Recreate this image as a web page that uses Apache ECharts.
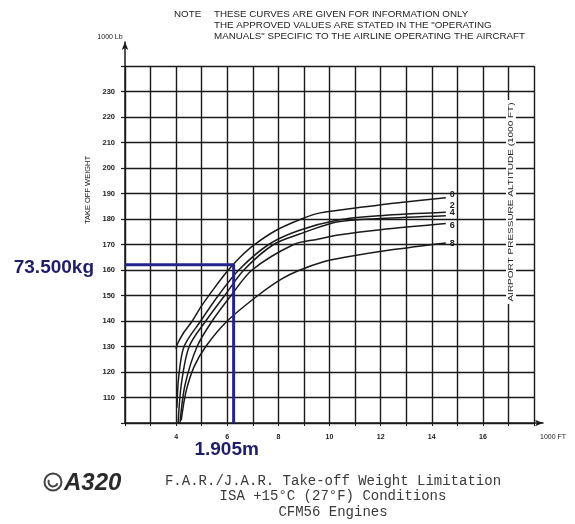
<!DOCTYPE html>
<html>
<head>
<meta charset="utf-8">
<title>A320 Take-off Weight Limitation</title>
<script src="https://cdn.jsdelivr.net/npm/echarts@6/dist/echarts.min.js"></script>
<style>
  html, body { margin: 0; padding: 0; background: #fff; }
  #chart { width: 575px; height: 524px; }
</style>
</head>
<body>
<div id="chart"></div>
<script>
// Airport pressure altitude (1000 ft) of each curve
const altitudes = ['0', '2', '4', '6', '8'];

// Curves: [runway length (1000 ft), take-off weight (1000 lb)]
const alt0 = [[4.0,129],[4.05,131],[4.3,135.5],[4.63,140],[5.0,146],[5.5,153],[6.0,159.5],[6.5,165],[7.0,169.5],[7.9,175.5],[8.9,180],[9.6,182.3],[11.4,184.8],[12.7,186.4],[14.55,188.3]];
const alt2 = [[4.03,106],[4.1,118],[4.31,130],[4.96,140],[5.65,150],[6.45,160],[7.62,170],[8.8,175.5],[10.34,179.6],[12.0,181.3],[14.55,182.6]];
const alt4 = [[4.08,100],[4.2,115],[4.51,130],[5.16,140],[5.9,150],[6.65,160],[7.81,170],[8.8,174],[10.34,178.9],[12.0,180.2],[14.55,181.3]];
const alt6 = [[4.15,100],[4.35,115],[4.82,130],[5.41,140],[6.15,150],[6.97,160],[8.6,170],[9.5,172],[10.34,173.7],[12.0,175.8],[14.55,178.2]];
const alt8 = [[4.2,101],[4.38,112],[4.7,122],[5.16,130],[6.0,140],[7.2,150],[8.13,156.5],[8.8,159.8],[9.8,163.3],[10.6,165],[12.5,168],[14.55,170.6]];
const curves = [alt0, alt2, alt4, alt6, alt8];

// Worked example: take-off weight and runway length
const exampleWeightKg = 73500;
const exampleRunwayM = 1905;

// Axis tick labels
const xTickLabels = [4, 6, 8, 10, 12, 14, 16];
const yTickLabels = [110, 120, 130, 140, 150, 160, 170, 180, 190, 200, 210, 220, 230];

const KG_TO_KLB = 2.20462 / 1000;
const M_TO_KFT = 3.28084 / 1000;
const exWeight = exampleWeightKg * KG_TO_KLB;
const exRunway = exampleRunwayM * M_TO_KFT;
const dotted = n => String(n).replace(/\B(?=(\d{3})+(?!\d))/g, '.');

const X_MIN = 2, X_MAX = 18, Y_MIN = 100, Y_MAX = 240;
const INK = '#1a1a1a';
const NAVY = '#24248f';
const smallFont = 'Liberation Sans, Arial, sans-serif';
const monoFont = '14px Liberation Mono, DejaVu Sans Mono, monospace';

// Stagger the altitude numbers at the right end of the curves
const endOffsets = [[2, -3], [2, -7], [2, -3], [2, 2], [2, 1]];

const curveSeries = curves.map((pts, i) => ({
  type: 'line',
  name: altitudes[i],
  xAxisIndex: 0,
  yAxisIndex: 0,
  data: pts,
  showSymbol: false,
  smooth: 0.3,
  lineStyle: { color: INK, width: 1.5 },
  endLabel: {
    show: true,
    formatter: altitudes[i],
    distance: 2,
    offset: endOffsets[i],
    fontSize: 9,
    fontWeight: 'bold',
    fontFamily: smallFont,
    color: '#222'
  },
  z: 3
}));

const exampleSeries = {
  type: 'line',
  xAxisIndex: 0,
  yAxisIndex: 0,
  symbol: 'circle',
  symbolSize: 0,
  showSymbol: true,
  lineStyle: { color: NAVY, width: 3 },
  itemStyle: { color: NAVY },
  label: { show: false },
  z: 4,
  data: [
    {
      value: [X_MIN, exWeight],
      label: {
        show: true, position: 'left', distance: 31, offset: [0, 3],
        formatter: dotted(exampleWeightKg) + 'kg',
        fontSize: 19, fontWeight: 'bold', fontFamily: smallFont,
        color: '#1e1e6a'
      }
    },
    { value: [exRunway, exWeight] },
    {
      value: [exRunway, Y_MIN],
      label: {
        show: true, position: 'bottom', distance: 17, offset: [-7, 0],
        formatter: dotted(exampleRunwayM) + 'm',
        fontSize: 19, fontWeight: 'bold', fontFamily: smallFont,
        color: '#1e1e6a'
      }
    }
  ]
};

const noteText = (txt, x, y) => ({
  type: 'text', x: x, y: y, scaleX: 1.15,
  style: { text: txt, font: '8.5px ' + smallFont, fill: '#222', align: 'left', verticalAlign: 'middle' }
});

const chart = echarts.init(document.getElementById('chart'), null, { renderer: 'canvas' });

chart.setOption({
  animation: false,
  backgroundColor: '#fff',
  grid: [
    { left: 125, top: 66, right: 41, bottom: 101 },
    { left: 125, top: 42, right: 32, bottom: 101 }
  ],
  xAxis: [
    {
      type: 'value', gridIndex: 0, min: X_MIN, max: X_MAX, interval: 1,
      axisLine: { show: false },
      axisTick: { show: true, length: 3, lineStyle: { color: INK, width: 1 } },
      axisLabel: {
        margin: 11, fontSize: 7, fontFamily: smallFont, color: '#222', fontWeight: 'bold',
        formatter: v => (xTickLabels.indexOf(v) >= 0 ? String(v) : '')
      },
      splitLine: { show: true, lineStyle: { color: INK, width: 1.4 } }
    },
    {
      type: 'value', gridIndex: 1, min: 0, max: 1,
      axisLine: { show: true, onZero: false, symbol: ['none', 'arrow'], symbolSize: [5, 8], lineStyle: { color: INK, width: 1.5 } },
      axisTick: { show: false }, axisLabel: { show: false }, splitLine: { show: false }
    }
  ],
  yAxis: [
    {
      type: 'value', gridIndex: 0, min: Y_MIN, max: Y_MAX, interval: 10,
      axisLine: { show: false },
      axisTick: { show: true, length: 4, lineStyle: { color: INK, width: 1.2 } },
      axisLabel: {
        margin: 10, fontSize: 7.5, fontFamily: smallFont, color: '#222', fontWeight: 'bold',
        formatter: v => (yTickLabels.indexOf(v) >= 0 ? String(v) : '')
      },
      splitLine: { show: true, lineStyle: { color: INK, width: 1.4 } }
    },
    {
      type: 'value', gridIndex: 1, min: 0, max: 1,
      axisLine: { show: true, onZero: false, symbol: ['none', 'arrow'], symbolSize: [5, 8], lineStyle: { color: INK, width: 1.5 } },
      axisTick: { show: false }, axisLabel: { show: false }, splitLine: { show: false }
    }
  ],
  series: curveSeries.concat([exampleSeries]),
  graphic: [
    // Note above the chart
    noteText('NOTE', 174, 15),
    noteText('THESE CURVES ARE GIVEN FOR INFORMATION ONLY', 214, 15),
    noteText('THE APPROVED VALUES ARE STATED IN THE "OPERATING', 214, 26),
    noteText('MANUALS" SPECIFIC TO THE AIRLINE OPERATING THE AIRCRAFT', 214, 37),
    // Axis units and titles
    { type: 'text', x: 110, y: 37, style: { text: '1000 Lb', font: '7px ' + smallFont, fill: '#222', align: 'center', verticalAlign: 'middle' } },
    { type: 'text', x: 540, y: 437, style: { text: '1000 FT', font: '7px ' + smallFont, fill: '#222', align: 'left', verticalAlign: 'middle' } },
    { type: 'text', x: 88, y: 190, rotation: Math.PI / 2,
      style: { text: 'TAKE OFF WEIGHT', font: '7.5px ' + smallFont, fill: '#222', align: 'center', verticalAlign: 'middle' } },
    { type: 'text', x: 511, y: 202, rotation: Math.PI / 2, scaleX: 1.25, z: 10,
      style: { text: 'AIRPORT PRESSURE ALTITUDE (1000 FT)', font: '8px ' + smallFont, fill: '#222', align: 'center', verticalAlign: 'middle',
               backgroundColor: '#fff', padding: [1, 2] } },
    // Airbus emblem and model
    { type: 'circle', shape: { cx: 53, cy: 482, r: 8.5 }, style: { fill: 'none', stroke: '#444', lineWidth: 2 } },
    { type: 'arc', shape: { cx: 53, cy: 482, r: 4.5, startAngle: 0.3, endAngle: 3.6 }, style: { fill: 'none', stroke: '#444', lineWidth: 2 } },
    { type: 'text', x: 64, y: 483, style: { text: 'A320', font: 'italic bold 24px Liberation Sans, Arial, sans-serif', fill: '#2a2a2a', align: 'left', verticalAlign: 'middle' } },
    // Caption
    { type: 'text', x: 333, y: 481, style: { text: 'F.A.R./J.A.R. Take-off Weight Limitation', font: monoFont, fill: '#3a3a3a', align: 'center', verticalAlign: 'middle' } },
    { type: 'text', x: 333, y: 496, style: { text: 'ISA +15°C (27°F) Conditions', font: monoFont, fill: '#3a3a3a', align: 'center', verticalAlign: 'middle' } },
    { type: 'text', x: 333, y: 512, style: { text: 'CFM56 Engines', font: monoFont, fill: '#3a3a3a', align: 'center', verticalAlign: 'middle' } }
  ]
});
</script>
</body>
</html>
